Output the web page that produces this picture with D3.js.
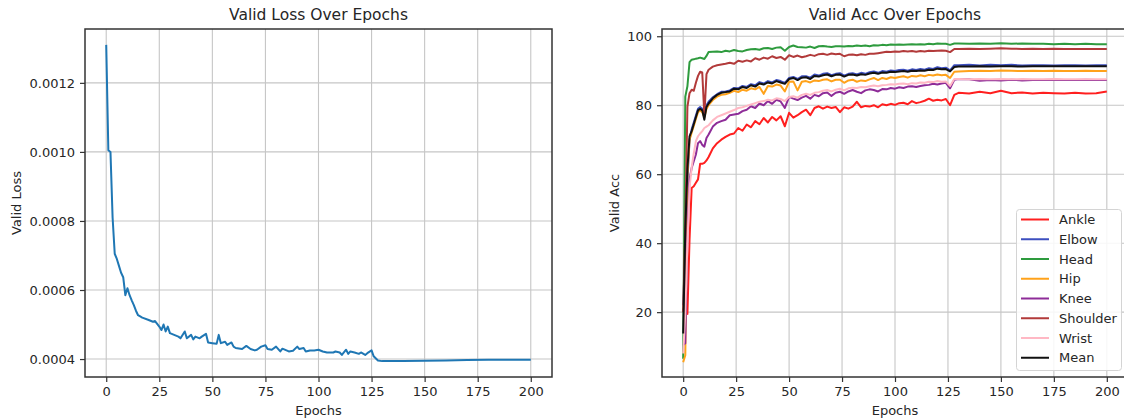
<!DOCTYPE html>
<html lang="en">
<head>
<meta charset="UTF-8" />
<title>Valid Loss / Valid Acc Over Epochs</title>
<style>
  body { margin: 0; background: #fff; }
  svg { display: block; font-family: "DejaVu Sans", sans-serif; }
  .tick text { font-size: 13px; fill: #262626; }
  .tick line { stroke: #333; stroke-width: 1.2; }
  .grid line { stroke: #c6c6c6; stroke-width: 1.1; }
  .frame { fill: none; stroke: #333; stroke-width: 1.5; }
  .title { font-size: 15.5px; fill: #262626; text-anchor: middle; }
  .label { font-size: 13px; fill: #262626; text-anchor: middle; }
  .legend text { font-size: 13px; fill: #262626; }
</style>
</head>
<body>
<svg width="1124" height="418"></svg>
<script src="https://d3js.org/d3.v7.min.js"></script>
<script>
// ---- data ----
const xTicks = [0, 25, 50, 75, 100, 125, 150, 175, 200];
const lossTicks = [0.0004, 0.0006, 0.0008, 0.0010, 0.0012];
const accTicks = [20, 40, 60, 80, 100];

const lossEpochs = [
  0, 1, 2, 3, 4, 5, 6, 7, 8, 9, 10, 11, 12, 13, 14, 15,
  17, 20, 22, 23, 25, 26, 27, 28, 29, 30,
  32, 34, 35, 37, 38, 40, 41, 42, 44, 45,
  47, 48, 50, 52, 53, 54, 56, 57, 59, 60,
  61, 64, 66, 68, 70, 71, 73, 75, 76, 78,
  80, 82, 83, 86, 88, 90, 91, 93, 94, 96,
  98, 100, 102, 104, 107, 108, 110, 111, 113, 114,
  115, 117, 119, 120, 122, 123, 125, 126, 128, 130,
  140, 150, 160, 170, 180, 190, 200
];
const lossValues = [
  0.001310, 0.001005, 0.001000, 0.000810, 0.000705, 0.000690, 0.000670, 0.000650,
  0.000637, 0.000585, 0.000605, 0.000585, 0.000570, 0.000556, 0.000540, 0.000527,
  0.000520, 0.000513, 0.000508, 0.000510, 0.000494, 0.000484, 0.000500, 0.000480, 0.000494, 0.000475,
  0.000470, 0.000465, 0.000460, 0.000480, 0.000460, 0.000470, 0.000457, 0.000465, 0.000460, 0.000465,
  0.000473, 0.000448, 0.000446, 0.000444, 0.000470, 0.000446, 0.000450, 0.000441, 0.000448, 0.000436,
  0.000432, 0.000429, 0.000438, 0.000429, 0.000425, 0.000427, 0.000436, 0.000440, 0.000429, 0.000427,
  0.000436, 0.000422, 0.000430, 0.000422, 0.000424, 0.000436, 0.000429, 0.000432, 0.000422, 0.000425,
  0.000425, 0.000427, 0.000422, 0.000419, 0.000419, 0.000422, 0.000419, 0.000412, 0.000427, 0.000415,
  0.000422, 0.000419, 0.000415, 0.000419, 0.000412, 0.000417, 0.000425, 0.000408, 0.000396, 0.000394,
  0.000394, 0.000395, 0.000396, 0.000397, 0.000398, 0.000398, 0.000398
];

const accEpochs = [
  0, 1, 2, 3, 4, 5, 6, 7, 8, 9, 10, 11, 12,
  14, 16, 18, 20, 22, 24, 26, 28, 30, 32,
  34, 36, 38, 40, 42, 44, 46, 48, 50, 52,
  54, 56, 58, 60, 62, 64, 66, 68, 70, 72,
  74, 76, 78, 80, 82, 84, 86, 88, 90, 92,
  94, 96, 98, 100, 102, 104, 106, 108, 110, 112,
  114, 116, 118, 120, 122, 124, 126, 128,
  130, 135, 140, 145, 150, 155, 160, 165, 170, 175, 180, 185, 190, 195, 200
];

const ankle = [
  20.5, 23, 19.5, 41, 56, 56.5, 57.5, 58.5, 63, 63, 63.3, 64, 65,
  67.5, 69.0, 70.0, 70.8, 71.5, 71.8, 73.4, 72.6, 74.4, 73.6,
  75.4, 74.5, 76.3, 75.0, 76.6, 75.6, 76.8, 73.9, 77.8, 76.4,
  77.1, 78.0, 78.7, 77.1, 79.2, 79.7, 79.0, 79.6, 79.2, 79.5,
  78.0, 79.4, 79.0, 79.6, 81.0, 79.4, 79.8, 79.6, 80.0, 79.4,
  80.3, 80.0, 80.4, 80.1, 80.6, 80.7, 80.3, 81.2, 80.6, 80.9,
  81.3, 81.9, 81.3, 81.6, 81.4, 81.8, 80.0, 83.0,
  83.6, 83.4, 83.9, 83.5, 84.2, 83.5, 83.7, 83.4, 83.6, 83.5, 83.4, 83.6, 83.4, 83.5, 84.0
];
const elbow = [
  22, 38, 58, 70, 73, 75, 77, 79, 79.5, 79, 77, 80, 81,
  82.3, 83.2, 83.9, 84.0, 84.3, 85.0, 84.9, 85.6, 85.3, 86.1,
  85.8, 86.7, 86.3, 87.0, 86.6, 87.3, 87.0, 86.5, 87.9, 88.2,
  87.6, 88.4, 88.4, 88.0, 88.9, 88.6, 89.1, 89.3, 88.7, 89.1,
  89.3, 88.6, 89.1, 89.3, 88.9, 89.4, 89.1, 89.6, 89.8, 89.4,
  89.9, 89.7, 90.1, 89.9, 90.2, 90.3, 90.0, 90.4, 90.2, 90.5,
  90.3, 90.7, 90.5, 91.0, 90.7, 90.9, 90.1, 91.6,
  91.6, 91.7, 91.5, 91.7, 91.6, 91.7, 91.5, 91.6, 91.6, 91.5, 91.6, 91.6, 91.5, 91.6, 91.6
];
const head = [
  6.5, 82.5, 85.5, 92.5, 93.2, 93.3, 93.5, 93.6, 93.8, 93.6, 93.4, 94.3, 95.4,
  95.5, 95.6, 95.4, 95.8, 95.6, 96.0, 95.7, 95.6, 96.0, 96.2,
  96.3, 96.1, 96.5, 96.6, 96.3, 96.7, 96.8, 95.8, 96.9, 97.3,
  96.9, 96.8, 96.7, 97.0, 96.6, 97.1, 97.2, 97.0, 96.9, 97.1,
  97.1, 97.0, 97.2, 97.1, 97.3, 97.2, 97.3, 97.1, 97.4, 97.3,
  97.5, 97.4, 97.6, 97.5, 97.6, 97.5, 97.6, 97.7, 97.6, 97.7,
  97.6, 97.8, 97.7, 97.9, 97.8, 97.8, 97.5, 97.9,
  97.9, 97.8, 97.9, 97.8, 98.0, 97.8, 97.9, 97.8, 97.8, 97.7, 97.8, 97.7, 97.8, 97.7, 97.7
];
const hip = [
  5.5, 7.5, 60, 70, 72, 74, 76, 78, 78.5, 78, 76.5, 79, 80,
  81.5, 82.5, 83.0, 83.2, 83.6, 84.2, 83.8, 84.5, 84.2, 84.9,
  84.6, 85.3, 83.3, 85.6, 85.4, 86.0, 85.7, 84.0, 86.8, 86.9,
  84.3, 86.8, 87.0, 86.6, 87.2, 87.0, 87.4, 87.5, 86.9, 87.4,
  87.4, 86.5, 87.2, 87.4, 86.8, 87.2, 87.0, 87.5, 87.9, 87.3,
  87.9, 87.6, 88.1, 87.9, 88.2, 88.4, 88.0, 88.5, 88.3, 88.7,
  88.4, 88.8, 88.6, 88.9, 88.7, 88.8, 87.9, 89.7,
  89.8, 89.9, 90.0, 89.9, 90.1, 90.0, 89.9, 90.0, 89.9, 90.0, 89.9, 89.9, 90.0, 89.9, 89.9
];
const knee = [
  10.5, 11, 44, 58.5, 61.8, 63.8, 65.7, 69, 69.6, 68.5, 68.0, 70.5, 71.5,
  73.8, 74.9, 75.4, 75.8, 77.1, 77.3, 77.5, 78.3, 78.7, 79.7,
  79.2, 80.5, 80.0, 81.2, 80.4, 81.6, 81.1, 79.2, 82.4, 81.9,
  81.5, 82.2, 82.7, 81.9, 83.0, 82.6, 83.5, 83.7, 82.7, 83.6,
  83.9, 83.3, 84.0, 84.4, 83.9, 83.5, 84.3, 84.6, 84.4, 84.0,
  84.7, 84.6, 85.0, 84.8, 85.2, 85.0, 85.4, 85.5, 85.3, 85.6,
  85.8, 85.9, 86.2, 86.0, 86.3, 86.5, 84.9, 87.4,
  87.6, 87.5, 87.1, 87.3, 87.2, 87.4, 87.2, 87.3, 87.3, 87.4, 87.3, 87.3, 87.4, 87.3, 87.3
];
const shoulder = [
  20, 45, 79.5, 83.5, 84.5, 84.2, 86.5, 88.5, 89.7, 89.5, 77.0, 89.0, 90.3,
  91.2, 91.6, 91.8, 92.0, 92.3, 92.0, 92.9, 92.6, 93.0, 92.7,
  93.6, 93.2, 93.8, 93.5, 94.2, 93.7, 94.0, 93.2, 94.5, 94.0,
  94.4, 93.9, 94.2, 94.6, 94.3, 94.8, 94.9, 94.6, 95.0, 94.8,
  94.9, 94.2, 94.6, 94.7, 94.5, 94.8, 94.6, 94.9, 94.9, 95.1,
  95.3, 95.5, 95.4, 95.6, 95.5, 95.7, 95.6, 95.7, 95.5, 95.7,
  95.6, 95.8, 95.7, 95.8, 95.9, 95.8, 95.4, 96.3,
  96.3, 96.4, 96.3, 96.4, 96.5, 96.4, 96.3, 96.4, 96.3, 96.4, 96.3, 96.3, 96.3, 96.3, 96.3
];
const wrist = [
  8, 20, 40, 56, 62, 66, 69.6, 71, 71.8, 72.5, 73.4, 73.8, 74.2,
  75.6, 76.6, 77.1, 77.6, 78.1, 78.6, 79.2, 79.4, 79.8, 80.2,
  80.6, 81.0, 81.2, 81.6, 81.4, 82.0, 81.8, 81.2, 82.4, 82.6,
  82.2, 83.0, 83.3, 83.0, 83.6, 83.8, 84.2, 84.4, 84.0, 84.5,
  84.8, 84.3, 84.9, 85.1, 85.0, 85.3, 85.2, 85.5, 85.7, 85.5,
  85.8, 85.9, 86.1, 86.0, 86.2, 86.3, 86.1, 86.4, 86.3, 86.6,
  86.5, 86.8, 86.7, 87.0, 86.8, 86.9, 85.6, 87.6,
  87.6, 87.5, 87.6, 87.5, 87.6, 87.5, 87.6, 87.5, 87.5, 87.6, 87.5, 87.5, 87.5, 87.5, 87.5
];
const mean = [
  13.8, 44, 61.5, 71, 72.5, 74.5, 76.5, 78.5, 79, 78.5, 75.8, 79.5, 80.5,
  82.0, 83.0, 83.6, 83.8, 84.0, 84.8, 84.6, 85.3, 85.0, 85.8,
  85.4, 86.3, 86.0, 86.6, 86.3, 87.0, 86.6, 86.2, 87.6, 87.9,
  87.3, 88.0, 88.1, 87.6, 88.5, 88.3, 88.7, 88.9, 88.4, 88.8,
  88.9, 88.3, 88.8, 88.9, 88.6, 89.0, 88.8, 89.2, 89.4, 89.1,
  89.5, 89.4, 89.7, 89.6, 89.8, 89.9, 89.7, 90.0, 89.9, 90.1,
  90.0, 90.3, 90.2, 90.6, 90.4, 90.5, 89.8, 91.1,
  91.2, 91.2, 91.3, 91.2, 91.3, 91.3, 91.2, 91.3, 91.3, 91.3, 91.3, 91.3, 91.3, 91.3, 91.3
];

const seriesNames = ["Ankle", "Elbow", "Head", "Hip", "Knee", "Shoulder", "Wrist", "Mean"];
const seriesValues = [ankle, elbow, head, hip, knee, shoulder, wrist, mean];
const seriesColors = ["#ff1f1f", "#3d4fbf", "#2e9b3e", "#ffa21a", "#8e2c98", "#b23a3a", "#ffb8c4", "#111111"];

// ---- drawing ----
const svg = d3.select("svg");
const plotTop = 29, plotBottom = 377;

function pairs(xs, ys) {
  return xs.slice(0, Math.min(xs.length, ys.length)).map((e, i) => [e, ys[i]]);
}

function panel(id, left, right, yDomain, yTicks, yFmt, title, yLabel, labelX) {
  const x = d3.scaleLinear().domain([-10, 210]).range([left, right]);
  const y = d3.scaleLinear().domain(yDomain).range([plotBottom, plotTop]);
  const g = svg.append("g").attr("id", id);

  g.append("defs").append("clipPath").attr("id", id + "-clip")
    .append("rect").attr("x", left).attr("y", plotTop)
    .attr("width", right - left).attr("height", plotBottom - plotTop);

  // grid
  const grid = g.append("g").attr("class", "grid");
  grid.selectAll(".gx").data(xTicks).join("line").attr("class", "gx")
    .attr("x1", d => x(d)).attr("x2", d => x(d)).attr("y1", plotTop).attr("y2", plotBottom);
  grid.selectAll(".gy").data(yTicks).join("line").attr("class", "gy")
    .attr("x1", left).attr("x2", right).attr("y1", d => y(d)).attr("y2", d => y(d));

  // axes
  g.append("g").attr("transform", `translate(0,${plotBottom})`)
    .call(d3.axisBottom(x).tickValues(xTicks).tickSize(5).tickPadding(5))
    .call(a => a.select(".domain").remove());
  g.append("g").attr("transform", `translate(${left},0)`)
    .call(d3.axisLeft(y).tickValues(yTicks).tickFormat(yFmt).tickSize(5).tickPadding(5))
    .call(a => a.select(".domain").remove());
  g.selectAll("g").attr("font-family", null).attr("font-size", null);

  // titles
  g.append("text").attr("class", "title").attr("x", (left + right) / 2).attr("y", 20).text(title);
  g.append("text").attr("class", "label").attr("x", (left + right) / 2).attr("y", 415).text("Epochs");
  g.append("text").attr("class", "label")
    .attr("transform", `translate(${labelX},${(plotTop + plotBottom) / 2}) rotate(-90)`)
    .attr("dy", "0.35em").text(yLabel);

  const plot = g.append("g").attr("clip-path", `url(#${id}-clip)`);
  return { x, y, g, plot, left, right };
}

// left: valid loss
const lp = panel("loss", 85, 552, [0.000348, 0.001356], lossTicks, d3.format(".4f"),
  "Valid Loss Over Epochs", "Valid Loss", 16);
lp.plot.append("path")
  .datum(pairs(lossEpochs, lossValues))
  .attr("fill", "none").attr("stroke", "#1f77b4").attr("stroke-width", 2)
  .attr("stroke-linejoin", "round")
  .attr("d", d3.line().x(d => lp.x(d[0])).y(d => lp.y(d[1])));
lp.g.append("rect").attr("class", "frame")
  .attr("x", 85).attr("y", plotTop).attr("width", 552 - 85).attr("height", plotBottom - plotTop);

// right: valid acc
const rp = panel("acc", 662, 1128, [1.2, 102.1], accTicks, d3.format("d"),
  "Valid Acc Over Epochs", "Valid Acc", 614);
const accLine = d3.line().x(d => rp.x(d[0])).y(d => rp.y(d[1]));
rp.plot.selectAll(".acc").data(seriesValues).join("path").attr("class", "acc")
  .attr("fill", "none").attr("stroke", (d, i) => seriesColors[i]).attr("stroke-width", 2)
  .attr("stroke-linejoin", "round")
  .attr("d", d => accLine(pairs(accEpochs, d)));
rp.g.append("rect").attr("class", "frame")
  .attr("x", 662).attr("y", plotTop).attr("width", 1128 - 662).attr("height", plotBottom - plotTop);

// legend (lower right)
const lg = rp.g.append("g").attr("class", "legend");
lg.append("rect").attr("x", 1016.5).attr("y", 209.5).attr("width", 105).attr("height", 161)
  .attr("rx", 3).attr("fill", "#fff").attr("fill-opacity", 0.85)
  .attr("stroke", "#d4d4d4").attr("stroke-width", 1);
const rows = lg.selectAll(".row").data(seriesNames).join("g").attr("class", "row")
  .attr("transform", (d, i) => `translate(0,${219.5 + i * 19.75})`);
rows.append("line").attr("x1", 1021).attr("x2", 1049)
  .attr("stroke", (d, i) => seriesColors[i]).attr("stroke-width", 2);
rows.append("text").attr("x", 1059).attr("dy", "0.35em").text(d => d);
</script>
</body>
</html>
